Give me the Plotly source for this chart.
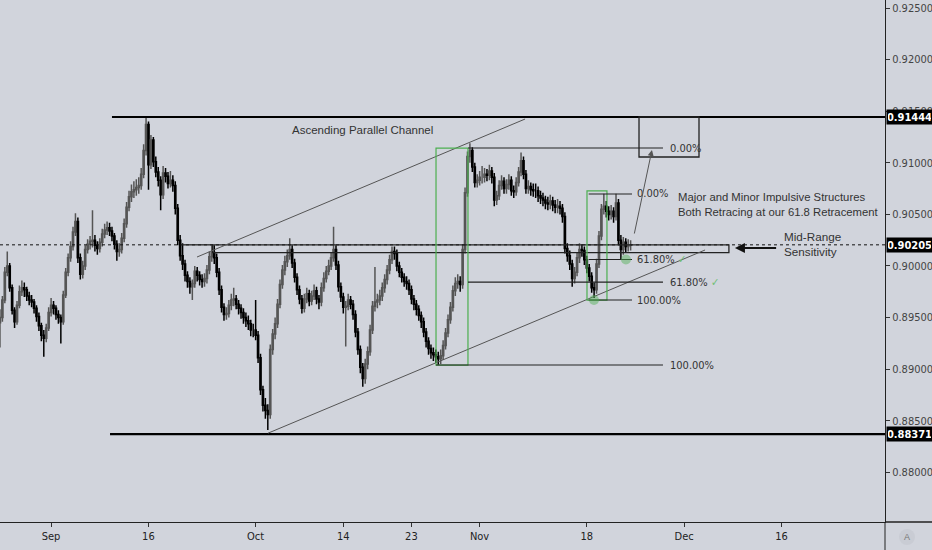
import plotly.graph_objects as go

# ---------------- data ----------------
closes = [
    .8950, .8967, .8994, .9000, .8979, .8957, .8946, .8962, .8975, .8979,
    .8977, .8971, .8967, .8965, .8959, .8951, .8942, .8933, .8930, .8940,
    .8955, .8962, .8959, .8953, .8950, .8946, .8972, .8994, .9008, .9019,
    .9033, .9043, .9008, .8992, .9000, .9016, .9021, .9024, .9025, .9020,
    .9017, .9023, .9031, .9035, .9037, .9034, .9029, .9021, .9014, .9016,
    .9027, .9041, .9057, .9067, .9072, .9074, .9076, .9078, .9089, .9112,
    .9137, .9098, .9122, .9101, .9091, .9083, .9069, .9090, .9087, .9080,
    .9083, .9078, .9056, .9025, .9010, .9002, .8991, .8985, .8980, .8983,
    .8995, .8991, .8987, .8985, .8988, .8996, .9009, .9013, .9008, .8994,
    .8977, .8960, .8953, .8954, .8962, .8967, .8968, .8963, .8959, .8955,
    .8950, .8947, .8944, .8938, .8938, .8933, .8911, .8880, .8865, .8860,
    .8856, .8919, .8934, .8944, .8963, .8982, .8996, .9004, .9010, .9016,
    .9003, .8989, .8977, .8968, .8959, .8968, .8973, .8966, .8971, .8976,
    .8968, .8965, .8979, .8988, .8995, .9000, .9008, .9016, .9001, .8980,
    .8970, .8960, .8961, .8967, .8963, .8953, .8936, .8919, .8902, .8891,
    .8905, .8917, .8938, .8961, .8965, .8967, .8971, .8979, .8987, .8996,
    .9006, .9014, .9012, .9000, .8994, .8989, .8985, .8983, .8977, .8968,
    .8963, .8958, .8952, .8946, .8936, .8927, .8920, .8916, .8914, .8912,
    .8910, .8913, .8923, .8935, .8948, .8960, .8976, .8983, .8985, .8982,
    .9016, .9071, .9106, .9112, .9096, .9081, .9083, .9086, .9086, .9089,
    .9088, .9092, .9086, .9064, .9068, .9078, .9082, .9075, .9079, .9083,
    .9073, .9072, .9081, .9091, .9102, .9089, .9075, .9077, .9074, .9073,
    .9073, .9068, .9066, .9064, .9061, .9060, .9063, .9059, .9057, .9058,
    .9056, .9048, .9017, .9010, .9002, .8988, .8994, .9008, .9016, .9015,
    .9006, .8998, .8990, .8979, .8977, .9002, .9029, .9055, .9058, .9053,
    .9050, .9053, .9048, .9061, .9025, .9016, .9023, .9019, .9020, .90205,
]
highs = [
    .8958, .8971, .8999, .9014, .9003, .8982, .8960, .8966, .8981, .8986,
    .8984, .8980, .8975, .8972, .8968, .8962, .8955, .8945, .8938, .8944,
    .8960, .8969, .8966, .8962, .8957, .8953, .8976, .8998, .9012, .9024,
    .9038, .9051, .9047, .9012, .9005, .9020, .9026, .9029, .9054, .9030,
    .9024, .9027, .9036, .9041, .9043, .9042, .9038, .9032, .9025, .9022,
    .9032, .9046, .9062, .9073, .9079, .9082, .9084, .9086, .9095, .9118,
    .9144, .9140, .9127, .9125, .9106, .9096, .9087, .9097, .9095, .9091,
    .9092, .9088, .9082, .9060, .9030, .9022, .9006, .8995, .8989, .8987,
    .9000, .8999, .8995, .8992, .8993, .9001, .9014, .9020, .9020, .9012,
    .8998, .8981, .8964, .8960, .8967, .8973, .8979, .8972, .8967, .8963,
    .8959, .8955, .8952, .8948, .8944, .8967, .8937, .8915, .8884, .8872,
    .8866, .8924, .8939, .8950, .8968, .8987, .9001, .9010, .9016, .9027,
    .9020, .9007, .8993, .8981, .8972, .8973, .8979, .8977, .8976, .8982,
    .8980, .8972, .8984, .8994, .9000, .9006, .9013, .9038, .9020, .9005,
    .8984, .8974, .8966, .8973, .8971, .8967, .8957, .8940, .8923, .8906,
    .8910, .8922, .8943, .8966, .8999, .8973, .8977, .8984, .8992, .9001,
    .9011, .9019, .9019, .9016, .9004, .8998, .8993, .8990, .8987, .8981,
    .8972, .8967, .8962, .8956, .8950, .8940, .8931, .8924, .8921, .8919,
    .8917, .8919, .8928, .8940, .8953, .8965, .8981, .8989, .8992, .8990,
    .9021, .9076, .9111, .9119, .9115, .9100, .9089, .9092, .9097, .9095,
    .9094, .9098, .9096, .9090, .9073, .9083, .9088, .9086, .9084, .9089,
    .9087, .9078, .9086, .9096, .9110, .9106, .9093, .9083, .9081, .9080,
    .9080, .9077, .9073, .9071, .9068, .9067, .9069, .9067, .9064, .9065,
    .9063, .9060, .9052, .9022, .9015, .9006, .8999, .9013, .9022, .9021,
    .9019, .9010, .9002, .8994, .8984, .9007, .9034, .9060, .9070, .9063,
    .9058, .9059, .9057, .9070, .9065, .9030, .9028, .9027, .9026, .9025,
]
lows = [
    .8921, .8946, .8964, .8990, .8975, .8953, .8940, .8943, .8959, .8971,
    .8970, .8966, .8962, .8960, .8954, .8946, .8937, .8927, .8912, .8926,
    .8937, .8951, .8953, .8948, .8944, .8925, .8943, .8969, .8990, .9004,
    .9015, .9029, .9003, .8987, .8988, .8996, .9012, .9016, .9018, .9014,
    .9011, .9013, .9019, .9027, .9030, .9029, .9024, .9016, .9005, .9009,
    .9012, .9023, .9037, .9053, .9062, .9066, .9068, .9070, .9074, .9085,
    .9107, .9074, .9094, .9096, .9086, .9077, .9054, .9065, .9081, .9075,
    .9076, .9072, .9050, .9020, .9005, .8996, .8985, .8979, .8973, .8967,
    .8979, .8985, .8981, .8979, .8980, .8983, .8992, .9004, .9002, .8989,
    .8972, .8955, .8947, .8948, .8950, .8957, .8961, .8958, .8953, .8949,
    .8944, .8941, .8938, .8932, .8931, .8928, .8906, .8875, .8859, .8852,
    .8841, .8852, .8914, .8929, .8940, .8959, .8978, .8991, .8999, .9006,
    .8998, .8984, .8972, .8963, .8954, .8955, .8964, .8961, .8962, .8967,
    .8963, .8958, .8961, .8975, .8984, .8991, .8996, .9004, .8996, .8975,
    .8965, .8954, .8922, .8957, .8958, .8948, .8931, .8914, .8896, .8883,
    .8886, .8900, .8913, .8934, .8956, .8959, .8962, .8966, .8974, .8982,
    .8992, .9002, .9006, .8995, .8989, .8984, .8980, .8977, .8972, .8963,
    .8957, .8952, .8947, .8940, .8931, .8921, .8914, .8910, .8908, .8906,
    .8904, .8905, .8909, .8919, .8931, .8944, .8956, .8971, .8978, .8975,
    .8978, .9012, .9067, .9100, .9091, .9076, .9076, .9078, .9080, .9081,
    .9082, .9083, .9080, .9058, .9059, .9064, .9074, .9070, .9070, .9074,
    .9068, .9066, .9068, .9077, .9087, .9084, .9070, .9070, .9068, .9067,
    .9066, .9062, .9060, .9058, .9055, .9054, .9055, .9053, .9051, .9051,
    .9050, .9042, .9012, .9004, .8996, .8980, .8983, .8990, .9003, .9009,
    .9001, .8993, .8985, .8974, .8969, .8973, .8998, .9025, .9050, .9047,
    .9044, .9045, .9042, .9044, .9020, .9006, .9011, .9013, .9014, .9015,
]
first_open = 0.8945
opens = [first_open] + closes[:-1]

BARS_PER_DAY = 4            # 6-hour candles
FIRST_BAR_DAY = -5.24       # trading-day index of the first candle (0 = 2 Sep)
bar_days = [FIRST_BAR_DAY + i / BARS_PER_DAY for i in range(len(closes))]

tick_labels = ["Sep", "16", "Oct", "14", "23", "Nov", "18", "Dec", "16"]
tick_days = [0, 10, 21, 30, 37, 44, 55, 65, 75]
price_ticks = [0.880, 0.885, 0.890, 0.895, 0.900, 0.905, 0.910, 0.915, 0.920, 0.925]

channel_top = 0.91444
channel_bottom = 0.88371
mid_range = 0.90205
mid_range_low = 0.9013

major_fib_high, major_fib_low = 0.91143, 0.8904
minor_fib_high, minor_fib_low = 0.90698, 0.8967
fib_levels = [0.0, 0.618, 1.0]
fib_names = ["0.00%", "61.80%", "100.00%"]

# ---------------- styling ----------------
BG = "#d1d4dc"
GREEN = "#4caf50"
AXIS_FONT = "Liberation Sans Narrow, DejaVu Sans Condensed, Arial Narrow, sans-serif"
TEXT_FONT = "Liberation Sans, Arial, sans-serif"
X_RANGE = [-5.236, 85.626]
Y_RANGE = [0.875193, 0.925775]

fig = go.Figure()
fig.add_trace(go.Candlestick(
    x=bar_days, open=opens, high=highs, low=lows, close=closes,
    increasing=dict(line=dict(color="#555555", width=1.5), fillcolor="#3a3a3a"),
    decreasing=dict(line=dict(color="#000000", width=1.5), fillcolor="#000000"),
    whiskerwidth=0, showlegend=False, hoverinfo="skip",
))

shapes = []
def line(x0, y0, x1, y1, color="#000", width=1, dash="solid", xref="x", yref="y"):
    shapes.append(dict(type="line", x0=x0, y0=y0, x1=x1, y1=y1, xref=xref, yref=yref,
                       line=dict(color=color, width=width, dash=dash), layer="above"))

def rect(x0, y0, x1, y1, color="#000", width=1):
    shapes.append(dict(type="rect", x0=x0, y0=y0, x1=x1, y1=y1, xref="x", yref="y",
                       line=dict(color=color, width=width), fillcolor="rgba(0,0,0,0)", layer="above"))

# horizontal channel bounds
line(6.26, channel_top, X_RANGE[1], channel_top, width=2.2)
line(6.06, channel_bottom, X_RANGE[1], channel_bottom, width=2.2)
# mid-range dotted line
line(X_RANGE[0], mid_range, X_RANGE[1], mid_range, color="#111", width=1, dash="dot")
# mid-range sensitivity box
line(13.4, mid_range, 16.6, mid_range, color="#222", width=1.3)
rect(16.6, mid_range_low, 69.6, mid_range, color="#222", width=1.3)
# ascending channel
line(14.99, 0.90087, 48.67, 0.91424, color="#555", width=1)
line(22.28, 0.8838, 67.15, 0.90155, color="#555", width=1)
# impulse boxes
rect(39.53, major_fib_low, 42.81, major_fib_high, color=GREEN, width=1.2)
rect(55.03, minor_fib_low, 57.08, minor_fib_high + 0.0003, color=GREEN, width=1.2)
# target box
rect(60.37, 0.91056, 66.53, channel_top, color="#222", width=1.3)

annotations = []
def fib(high, low, x_start_top, x_start_low, x_end, label_x, check_level):
    for lvl, name in zip(fib_levels, fib_names):
        price = high - lvl * (high - low)
        xs = x_start_low if lvl == 1.0 else x_start_top
        line(xs, price, x_end, price, color="#222", width=1.1)
        txt = name
        if lvl == check_level:
            txt += "<span style='color:#6fbf73'> ✓</span>"
        annotations.append(dict(x=label_x, y=price, xref="x", yref="y", text=txt,
                                showarrow=False, xanchor="left", yanchor="middle",
                                font=dict(family=AXIS_FONT, size=11, color="#333")))

fib(major_fib_high, major_fib_low, 42.81, 39.53, 62.83, 63.3, 0.618)
fib(minor_fib_high, minor_fib_low, 55.2, 55.2, 59.65, 59.95, 0.618)

# green touch circles
for cx, cy in [(55.75, minor_fib_low), (59.03, minor_fib_high - 0.618 * (minor_fib_high - minor_fib_low))]:
    shapes.append(dict(type="circle", xref="x", yref="y", xsizemode="pixel", ysizemode="pixel",
                       xanchor=cx, yanchor=cy, x0=-5, x1=5, y0=-5, y1=5,
                       fillcolor="rgba(76,175,80,0.45)", line=dict(width=0), layer="above"))

# frame lines
shapes.append(dict(type="line", xref="paper", yref="paper", x0=1, x1=1, y0=0, y1=-0.06,
                   line=dict(color="#222", width=1)))
shapes.append(dict(type="line", xref="paper", yref="paper", x0=1, x1=1.06, y0=0, y1=0,
                   line=dict(color="#222", width=1.3)))
# "A" badge
shapes.append(dict(type="circle", xref="paper", yref="paper", xsizemode="pixel", ysizemode="pixel",
                   xanchor=1.0249, yanchor=-0.0287, x0=-8, x1=8, y0=-8, y1=8,
                   fillcolor="#c9ccd4", line=dict(width=0), layer="below"))
annotations.append(dict(x=1.0249, y=-0.0287, xref="paper", yref="paper", text="A", showarrow=False,
                        xanchor="center", yanchor="middle",
                        font=dict(family=TEXT_FONT, size=9, color="#777")))

# texts
annotations.append(dict(x=32.03, y=0.91318, xref="x", yref="y", text="Ascending Parallel Channel",
                        showarrow=False, font=dict(family=TEXT_FONT, size=11.5, color="#333")))
annotations.append(dict(x=64.17, y=0.90596, xref="x", yref="y",
                        text="Major and Minor Impulsive Structures<br>Both Retracing at our 61.8 Retracement",
                        showarrow=False, xanchor="left", align="left",
                        font=dict(family=TEXT_FONT, size=11.3, color="#333")))
annotations.append(dict(x=75.05, y=0.90213, xref="x", yref="y", text="Mid-Range<br>Sensitivity",
                        showarrow=False, xanchor="left", align="left",
                        font=dict(family=TEXT_FONT, size=11.7, color="#333")))
# arrows
annotations.append(dict(x=61.70, y=0.91124, ax=59.86, ay=0.90300, xref="x", yref="y",
                        axref="x", ayref="y", text="", showarrow=True, arrowhead=2,
                        arrowsize=1.2, arrowwidth=1, arrowcolor="#555"))
annotations.append(dict(x=70.22, y=0.90174, ax=74.6, ay=0.90174, xref="x", yref="y",
                        axref="x", ayref="y", text="", showarrow=True, arrowhead=2,
                        arrowsize=1, arrowwidth=2, arrowcolor="#111"))

# highlighted price labels on the axis
for price in [channel_top, mid_range, channel_bottom]:
    annotations.append(dict(x=1, y=price, xref="paper", yref="y", xanchor="left", xshift=1,
                            text="<b>%.5f</b>" % price, showarrow=False, bgcolor="#000",
                            width=43, height=12, borderpad=1,
                            font=dict(family=AXIS_FONT, size=11, color="#fff")))

fig.update_layout(
    width=932, height=550,
    margin=dict(l=0, r=47, t=0, b=28),
    paper_bgcolor=BG, plot_bgcolor=BG,
    shapes=shapes, annotations=annotations,
    showlegend=False,
    xaxis=dict(range=X_RANGE, rangeslider=dict(visible=False), showgrid=False, zeroline=False,
               tickmode="array", tickvals=tick_days, ticktext=tick_labels,
               ticks="outside", ticklen=4, tickcolor="#333", showline=True, linecolor="#222",
               linewidth=1.3, tickfont=dict(family=AXIS_FONT, size=11, color="#222")),
    yaxis=dict(range=Y_RANGE, side="right", showgrid=False, zeroline=False,
               tickmode="array", tickvals=price_ticks, ticktext=["%.5f" % p for p in price_ticks],
               ticks="outside", ticklen=4, tickcolor="#333", showline=True, linecolor="#222",
               linewidth=1, tickfont=dict(family=AXIS_FONT, size=11, color="#444")),
)

fig.write_html("out.html", config={"displayModeBar": False},
               post_script="document.body.style.margin='0';document.body.style.background='%s';" % BG)
